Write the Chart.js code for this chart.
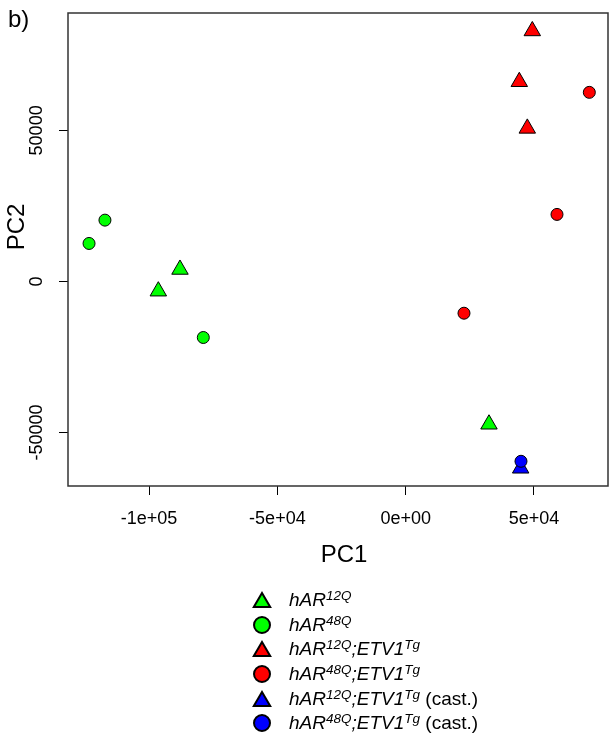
<!DOCTYPE html>
<html>
<head>
<meta charset="utf-8">
<script src="https://cdn.jsdelivr.net/npm/chart.js@4.4.0/dist/chart.umd.min.js"></script>
<style>
  body { margin: 0; background: #fff; overflow: hidden; }
  #wrap { position: relative; width: 613px; height: 750px; }
  #pcaChart { display: block; }
  #legend {
    position: absolute; left: 250px; top: 588px;
    font-family: "Liberation Sans", Arial, sans-serif; font-size: 19px; color: #000;
  }
  .row { display: flex; align-items: center; height: 24.6px; white-space: nowrap; }
  .row svg { width: 24px; height: 24px; margin-right: 15px; flex: none; }
  .row sup { font-size: 13.5px; position: relative; top: -0.45em; vertical-align: baseline; line-height: 0; }
</style>
</head>
<body>
<div id="wrap">
  <canvas id="pcaChart" width="613" height="750"></canvas>
  <div id="legend"></div>
</div>
<script>
// Axis ranges and ticks
const xMin = -131600, xMax = 78840;
const yMin = -67680, yMax = 88840;
const xTickValues = [-100000, -50000, 0, 50000];
const xTickLabels = ['-1e+05', '-5e+04', '0e+00', '5e+04'];
const yTickValues = [-50000, 0, 50000];
const yTickLabels = ['-50000', '0', '50000'];

// Groups
const groupLegend = [
  '<i>hAR<sup>12Q</sup></i>',
  '<i>hAR<sup>48Q</sup></i>',
  '<i>hAR<sup>12Q</sup>;ETV1<sup>Tg</sup></i>',
  '<i>hAR<sup>48Q</sup>;ETV1<sup>Tg</sup></i>',
  '<i>hAR<sup>12Q</sup>;ETV1<sup>Tg</sup></i> (cast.)',
  '<i>hAR<sup>48Q</sup>;ETV1<sup>Tg</sup></i> (cast.)'
];
const groupColors = ['#00ff00', '#00ff00', '#ff0000', '#ff0000', '#0000ff', '#0000ff'];
const groupShapes = ['triangle', 'circle', 'triangle', 'circle', 'triangle', 'circle'];

// PC1 / PC2 values per group
const pc1 = [
  [-87960, -96400, 32460],
  [-117200, -123400, -78870],
  [49340, 44270, 47390],
  [71560, 58960, 22720],
  [44800],
  [44930]
];
const pc2 = [
  [3970, -3210, -47250],
  [20300, 12580, -18540],
  [82900, 66090, 50660],
  [62580, 22190, -10500],
  [-61820],
  [-59500]
];

const fontFamily = '"Liberation Sans", Arial, sans-serif';
Chart.defaults.font.family = fontFamily;

const datasets = groupLegend.map((lbl, i) => ({
  label: lbl,
  data: pc1[i].map((x, j) => ({ x: x, y: pc2[i][j] })),
  pointStyle: groupShapes[i],
  pointRadius: groupShapes[i] === 'triangle' ? 9.5 : 6,
  backgroundColor: groupColors[i],
  borderColor: '#000',
  borderWidth: 1,
  order: groupLegend.length - i   // later groups drawn on top, like R
}));

// box around the plot plus the free texts
const framePlugin = {
  id: 'frame',
  afterDraw(chart) {
    const c = chart.ctx;
    const a = chart.chartArea;
    c.save();
    c.beginPath();
    c.strokeStyle = '#333';
    c.lineWidth = 1.5;
    c.rect(a.left, a.top, a.right - a.left, a.bottom - a.top);
    c.stroke();

    c.fillStyle = '#000';
    c.font = '24px ' + fontFamily;
    c.textAlign = 'left';
    c.textBaseline = 'alphabetic';
    c.fillText('b)', 8, 27);

    c.textAlign = 'center';
    c.fillText('PC1', 344, 562);

    c.translate(24, 227);
    c.rotate(-Math.PI / 2);
    c.fillText('PC2', 0, 0);
    c.restore();
  }
};

// fixed tick positions, like R's axis()
function setTicks(values) {
  return scale => { scale.ticks = values.map(v => ({ value: v })); };
}

const pcaChart = new Chart(document.getElementById('pcaChart').getContext('2d'), {
  type: 'scatter',
  data: { datasets: datasets },
  options: {
    responsive: false,
    animation: false,
    events: [],
    layout: { autoPadding: false, padding: { top: 13, right: 5, left: 0, bottom: 0 } },
    plugins: { legend: { display: false }, tooltip: { enabled: false } },
    scales: {
      x: {
        type: 'linear',
        min: xMin, max: xMax,
        afterBuildTicks: setTicks(xTickValues),
        afterFit: s => { s.height = 750 - 486; },
        border: { display: false },
        grid: { drawOnChartArea: false, tickLength: 9, tickColor: '#000', tickWidth: 1 },
        ticks: {
          autoSkip: false, maxRotation: 0, padding: 13,
          color: '#000', font: { size: 18 },
          callback: v => { const k = xTickValues.indexOf(v); return k >= 0 ? xTickLabels[k] : ''; }
        }
      },
      y: {
        type: 'linear',
        min: yMin, max: yMax,
        afterBuildTicks: setTicks(yTickValues),
        afterFit: s => { s.width = 68; },
        border: { display: false },
        grid: { drawOnChartArea: false, tickLength: 9, tickColor: '#000', tickWidth: 1 },
        ticks: {
          autoSkip: false, minRotation: 90, maxRotation: 90, crossAlign: 'center', padding: -6,
          color: '#000', font: { size: 18 },
          callback: v => { const k = yTickValues.indexOf(v); return k >= 0 ? yTickLabels[k] : ''; }
        }
      }
    }
  },
  plugins: [framePlugin]
});

// HTML legend (needs superscripts), built from the datasets
function markerSvg(shape, color) {
  const body = shape === 'triangle'
    ? `<polygon points="12,5 20.2,19 3.8,19" fill="${color}" stroke="#000" stroke-width="2"/>`
    : `<circle cx="12" cy="12" r="8" fill="${color}" stroke="#000" stroke-width="2"/>`;
  return `<svg viewBox="0 0 24 24">${body}</svg>`;
}
const legendBox = document.getElementById('legend');
pcaChart.data.datasets.forEach(ds => {
  const row = document.createElement('div');
  row.className = 'row';
  row.innerHTML = markerSvg(ds.pointStyle, ds.backgroundColor) + `<span>${ds.label}</span>`;
  legendBox.appendChild(row);
});
</script>
</body>
</html>
